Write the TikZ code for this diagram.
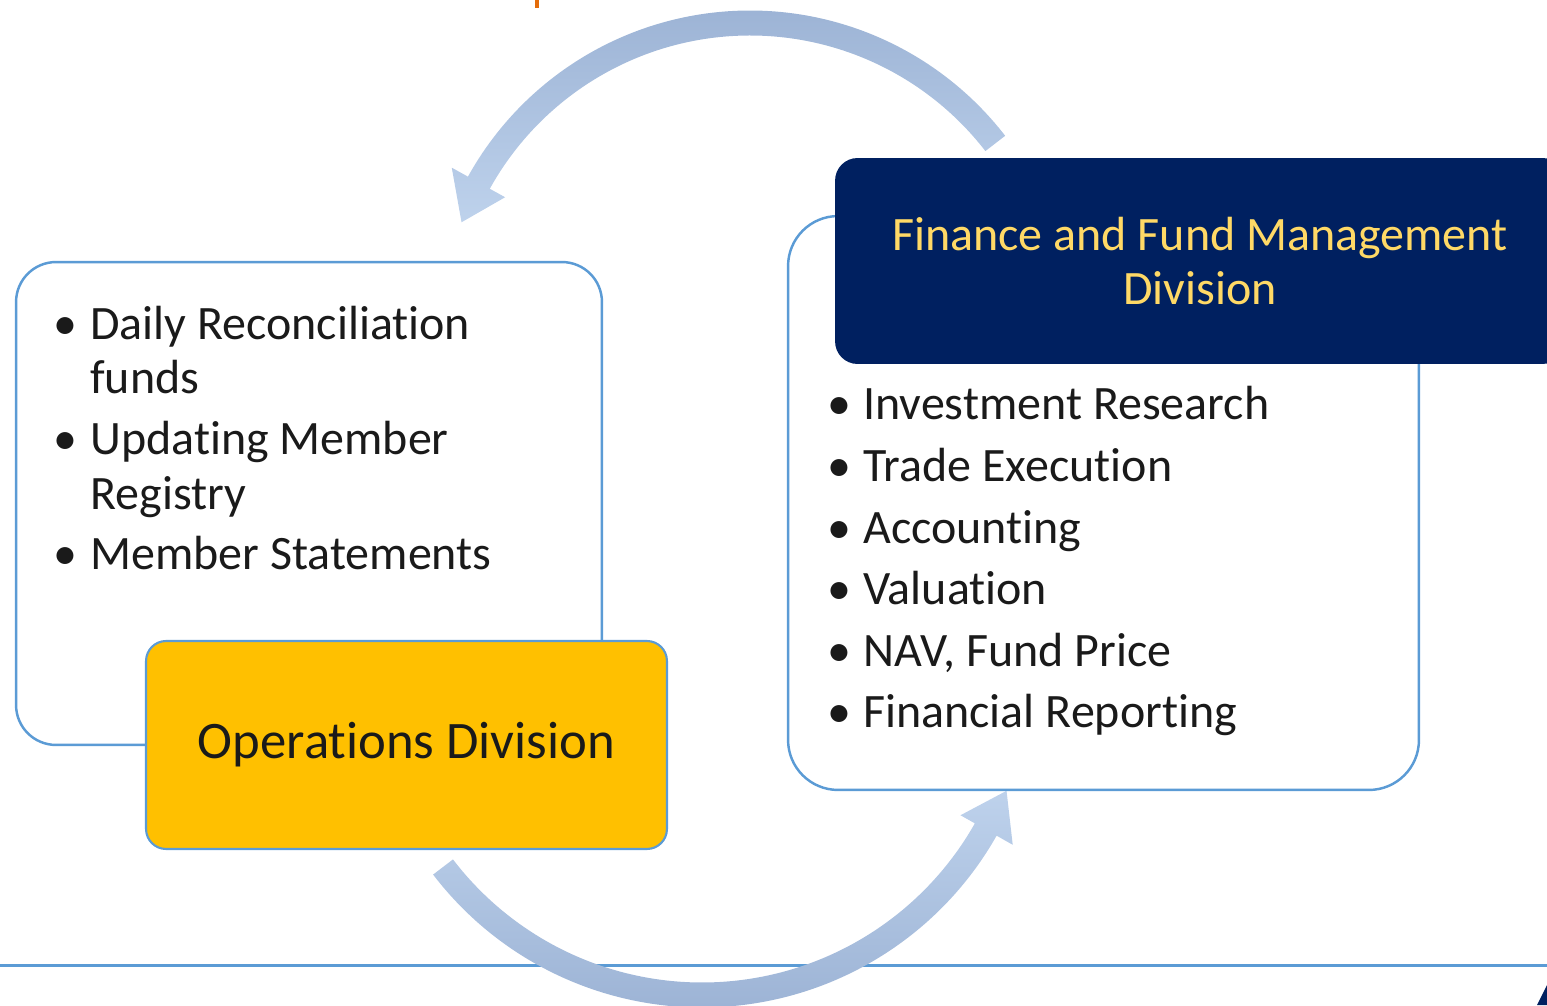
\documentclass[tikz,border=0pt]{standalone}
\usepackage{fontspec}
\setmainfont{Carlito}[Ligatures={CommonOff,ContextualOff},Contextuals=AlternateOff]
\usepackage{tikz}

\definecolor{edgeblue}{RGB}{91,155,213}
\definecolor{opsyellow}{RGB}{255,192,0}
\definecolor{fundnavy}{RGB}{0,32,96}
\definecolor{titleyellow}{RGB}{255,217,102}
\definecolor{arrowdark}{RGB}{155,178,212}
\definecolor{arrowlight}{RGB}{190,210,236}
\definecolor{tickorange}{RGB}{228,108,10}
\definecolor{bodytext}{RGB}{26,26,26}

\newcommand{\itemfont}{\fontsize{27.3}{31}\selectfont}

\tikzset{
  panel/.style={draw=edgeblue,line width=1.4pt,fill=white,
                rounded corners=#1,inner sep=0pt},
  itembul/.style={anchor=base,font=\itemfont,text=bodytext,inner sep=0pt},
  itemtxt/.style={anchor=base west,font=\itemfont,text=bodytext,inner sep=0pt},
}

\begin{document}
\begin{tikzpicture}[x=0.02cm,y=0.02cm]
    \clip (0,0) rectangle (1547,1005);

    % rule at the foot and the bits at the edges
    \coordinate (ruleL) at (0,40);
    \coordinate (ruleR) at (1547,40);
    \draw[edgeblue,line width=1.7pt] (ruleL) -- (ruleR);
    \fill[tickorange] (535,997) rectangle (539,1005);
    \fill[fundnavy] (1537,0) -- (1547,20) -- (1547,0) -- cycle;

    % circular arrows
    \coordinate (topc) at (750,672);
    \coordinate (botc) at (702,336);
    \begin{scope}[shift={(topc)}]
      \shade[top color=arrowdark,bottom color=arrowlight]
        (37.7:322.5) arc[start angle=37.7,end angle=151,radius=322.5]
        -- (151:341) -- (159:309) -- (151:280) -- (151:297.5)
        arc[start angle=151,end angle=37.7,radius=297.5] -- cycle;
    \end{scope}
    \begin{scope}[shift={(botc)}]
      \shade[top color=arrowlight,bottom color=arrowdark]
        (217.4:338.5) arc[start angle=217.4,end angle=330.5,radius=338.5]
        -- (330.5:357) -- (338.2:328) -- (330.5:297) -- (330.5:313.5)
        arc[start angle=330.5,end angle=217.4,radius=313.5] -- cycle;
    \end{scope}

    % Operations division
    \node[panel=0.8cm,minimum width=11.72cm,minimum height=9.66cm]
      (opsbox) at (309,501.5) {};
    \node[panel=0.4cm,fill=opsyellow,line width=1.2pt,minimum width=10.42cm,
          minimum height=4.16cm,font=\fontsize{30}{34}\selectfont,text=bodytext]
      (opshead) at (406.5,260) {Operations Division};
    \foreach \y in {665,551,436}
      \node[itembul] at (65,\y) {•};
    \node[itemtxt] (ops1) at (90,665) {Daily Reconciliation};
    \node[itemtxt] (ops1b) at (90,611) {funds};
    \node[itemtxt] (ops2) at (90,551) {Updating Member};
    \node[itemtxt] (ops2b) at (90,496) {Registry};
    \node[itemtxt] (ops3) at (90,436) {Member Statements};

    % Finance and fund management division
    \node[panel=1cm,minimum width=12.62cm,minimum height=11.48cm]
      (fundbox) at (1103.5,502) {};
    \node[fill=fundnavy,rounded corners=0.45cm,minimum width=14.6cm,
          minimum height=4.12cm,align=center,text=titleyellow,
          font=\fontsize{27.3}{30.7}\selectfont]
      (fundhead) at (1200,744) {Finance and Fund Management\\Division};
    \foreach \y/\t [count=\i] in {585/Investment Research,523/Trade Execution,
        462/Accounting,401/Valuation,339/{NAV, Fund Price},278/Financial Reporting}{
      \node[itembul] at (839,\y) {•};
      \node[itemtxt] (fund\i) at (863,\y) {\t};
    }
\end{tikzpicture}
\end{document}
